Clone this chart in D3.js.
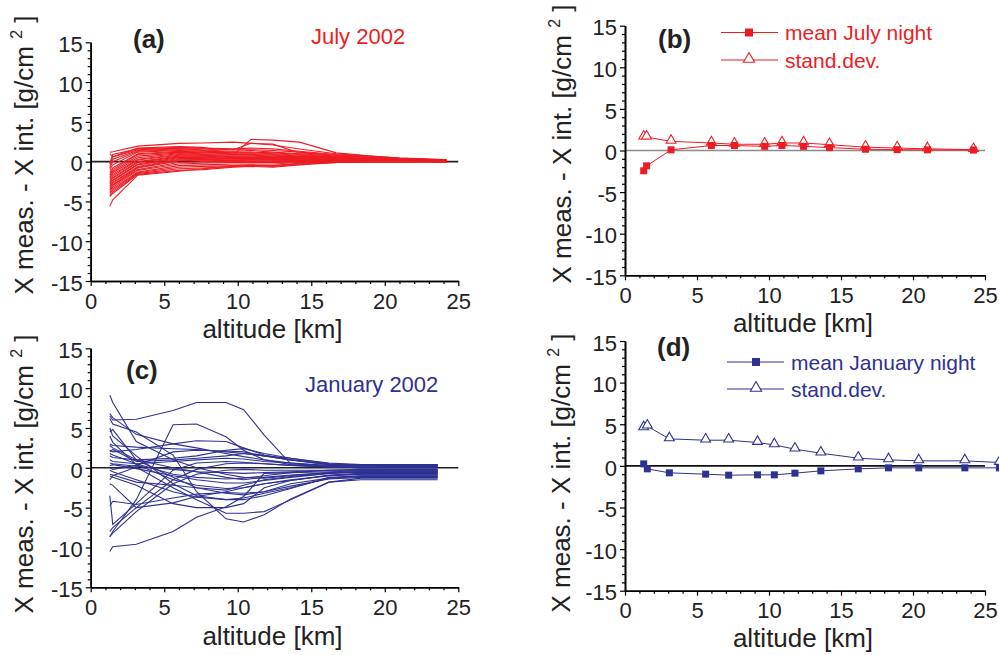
<!DOCTYPE html>
<html><head><meta charset="utf-8">
<script src="https://cdn.jsdelivr.net/npm/d3@7"></script>
<style>
html,body{margin:0;padding:0;background:#fff;}
svg{display:block;font-family:"Liberation Sans",Arial,sans-serif;}
</style></head>
<body>
<svg id="c" width="999" height="655"></svg>
<script>
// ---------------- data ----------------
const xTicks = [0, 5, 10, 15, 20, 25];
const yTicks = [-15, -10, -5, 0, 5, 10, 15];
const xTickLabels = ["0", "5", "10", "15", "20", "25"];
const yTickLabels = ["-15", "-10", "-5", "0", "5", "10", "15"];

const julyAlt = [1.3, 1.5, 3.2, 6.0, 7.6, 9.7, 10.9, 12.4, 14.2, 16.7, 18.9, 21.0, 24.2];
const julyProfiles = [
  [1.2, 1.25, 1.95, 2.3, 2.35, 2.45, 2.3, 2.1, 1.6, 1.0, 0.7, 0.45, 0.2],
  [1.0, 0.6, 1.7, 1.9, 1.8, 0.85, 2.8, 2.7, 2.45, 1.1, 0.75, 0.45, 0.25],
  [-0.2, 0.9, 1.6, 1.8, 1.7, 1.6, 1.7, 1.6, 1.3, 0.9, 0.6, 0.4, 0.2],
  [-0.5, 0.3, 1.4, 1.6, 1.5, 1.5, 1.5, 1.4, 1.2, 0.8, 0.55, 0.35, 0.15],
  [-0.8, 0.0, 1.3, 1.5, 1.4, 1.3, 1.4, 1.2, 1.0, 0.7, 0.5, 0.3, 0.15],
  [-1.0, -0.4, 1.2, 1.4, 1.3, 1.2, 1.2, 1.1, 0.9, 0.6, 0.4, 0.3, 0.1],
  [-1.3, -0.8, 1.0, 1.3, 1.2, 1.1, 1.1, 1.0, 0.8, 0.55, 0.4, 0.25, 0.1],
  [-1.5, -1.0, 0.9, 1.2, 1.1, 1.0, 1.0, 0.9, 0.7, 0.5, 0.35, 0.2, 0.1],
  [-1.7, -1.2, 0.7, 1.1, 1.0, 0.9, 0.9, 0.8, 0.65, 0.45, 0.3, 0.2, 0.1],
  [-1.9, -1.4, 0.5, 1.0, 0.9, 0.8, 0.8, 0.7, 0.6, 0.4, 0.3, 0.2, 0.05],
  [-2.0, -1.6, 0.3, 0.9, 0.8, 0.7, 0.7, 0.6, 0.5, 0.35, 0.25, 0.15, 0.05],
  [-2.2, -1.8, 0.2, 0.8, 0.8, 0.6, 0.6, 0.55, 0.45, 0.3, 0.2, 0.15, 0.05],
  [-2.4, -2.0, 0.0, 0.7, 0.7, 0.5, 0.5, 0.5, 0.4, 0.25, 0.2, 0.1, 0.0],
  [-2.5, -2.1, -0.1, 0.6, 0.6, 0.4, 0.5, 0.4, 0.35, 0.2, 0.15, 0.1, 0.05],
  [-2.7, -2.3, -0.3, 0.5, 0.5, 0.35, 0.4, 0.35, 0.3, 0.2, 0.15, 0.1, 0.0],
  [-2.8, -2.4, -0.4, 0.4, 0.4, 0.3, 0.35, 0.3, 0.25, 0.15, 0.1, 0.05, 0.0],
  [-3.0, -2.6, -0.6, 0.3, 0.3, 0.2, 0.3, 0.25, 0.2, 0.1, 0.1, 0.05, 0.0],
  [-3.1, -2.7, -0.7, 0.2, 0.25, 0.15, 0.2, 0.2, 0.15, 0.1, 0.05, 0.05, 0.0],
  [-3.3, -2.9, -0.8, 0.1, 0.2, 0.1, 0.1, 0.1, 0.1, 0.05, 0.05, 0.0, 0.0],
  [-3.5, -3.0, -1.0, -0.1, 0.0, 0.0, 0.0, 0.0, 0.05, 0.0, 0.0, 0.0, 0.0],
  [-3.6, -3.2, -1.1, -0.3, -0.2, -0.1, -0.1, -0.1, 0.0, 0.0, 0.0, 0.0, 0.0],
  [-3.8, -3.4, -1.3, -0.5, -0.4, -0.3, -0.3, -0.3, -0.1, 0.0, 0.0, 0.0, 0.05],
  [-4.0, -3.6, -1.4, -0.7, -0.6, -0.5, -0.4, -0.5, -0.2, -0.05, 0.0, 0.0, 0.05],
  [-4.2, -3.8, -1.5, -0.9, -0.8, -0.6, -0.5, -0.6, -0.3, -0.1, 0.0, 0.0, 0.05],
  [-4.4, -4.0, -1.6, -1.1, -1.0, -0.7, -0.6, -0.7, -0.4, -0.1, 0.0, 0.0, 0.0],
  [-5.6, -4.8, -1.7, -1.2, -0.9, -0.6, -0.5, -0.5, -0.3, -0.1, 0.0, 0.0, 0.0],
  [-0.3, 0.6, 1.5, 1.7, 1.7, 1.5, 2.3, 2.2, 1.1, 0.8, 0.6, 0.4, 0.2]
];
const julyMean = [-2.44, -1.84, 0.08, 0.6, 0.6, 0.5, 0.6, 0.5, 0.35, 0.15, 0.1, 0.08, 0.05];
const julySD   = [1.6, 1.6, 1.1, 0.9, 0.75, 0.75, 0.9, 0.9, 0.7, 0.4, 0.3, 0.2, 0.1];

const janAlt = [1.3, 1.5, 3.1, 5.6, 7.2, 9.2, 10.4, 11.8, 13.6, 16.2, 18.4, 20.4, 23.6];
const janProfiles = [
  [9.1, 8.2, 3.3, 1.0, 0.0, -0.8, -1.2, -1.3, -1.0, -0.6, -0.5, -0.5, -0.5],
  [6.5, 6.0, 6.1, 7.2, 8.2, 8.2, 7.3, 4.1, 0.5, 0.2, 0.1, 0.1, 0.1],
  [-8.7, -8.0, -4.0, 5.4, 5.5, 3.9, 2.2, 1.0, 0.4, 0.1, 0.0, 0.0, 0.0],
  [-10.5, -9.9, -9.6, -8.0, -6.2, -4.9, -3.6, -0.7, -0.6, -0.5, -0.4, -0.4, -0.4],
  [-3.5, -7.1, -4.5, -0.3, 0.6, 0.8, 0.7, 0.5, 0.3, 0.1, 0.0, 0.0, 0.0],
  [6.2, 5.5, 4.5, 1.6, -3.0, -6.4, -6.8, -5.9, -3.9, -1.8, -1.5, -1.5, -1.5],
  [5.0, 4.0, 1.5, -2.0, -3.5, -4.0, -3.8, -3.2, -2.5, -1.3, -1.0, -1.0, -1.0],
  [4.0, 3.2, 0.4, -1.5, -2.2, -2.6, -2.5, -2.0, -1.6, -0.9, -0.7, -0.7, -0.7],
  [3.0, 2.8, 2.6, 2.4, 2.3, 2.0, 1.8, 1.5, 1.0, 0.4, 0.3, 0.3, 0.3],
  [2.2, 2.0, 2.3, 3.0, 3.4, 3.3, 2.5, 1.6, 1.0, 0.4, 0.3, 0.2, 0.2],
  [1.5, 1.3, 1.0, 1.2, 1.5, 2.2, 2.4, 1.8, 1.2, 0.5, 0.3, 0.3, 0.3],
  [1.0, 0.8, 0.5, 0.8, 1.0, 1.2, 1.1, 0.8, 0.6, 0.3, 0.2, 0.2, 0.2],
  [0.6, 0.5, 0.2, -0.2, -0.5, -0.6, -0.7, -0.6, -0.5, -0.3, -0.2, -0.2, -0.2],
  [0.3, 0.4, -0.1, -1.0, -1.5, -1.9, -1.9, -1.6, -1.2, -0.7, -0.5, -0.5, -0.5],
  [-0.3, -0.5, -1.5, -3.0, -3.7, -4.0, -4.0, -3.5, -2.6, -1.2, -1.0, -1.0, -1.0],
  [-1.0, -1.2, -2.2, -4.5, -5.0, -5.0, -4.5, -2.5, -1.6, -1.0, -0.8, -0.8, -0.8],
  [-1.5, -1.0, 0.1, -2.5, -4.0, -5.7, -5.7, -5.5, -4.0, -1.8, -1.3, -1.3, -1.3],
  [-2.0, -2.2, -5.0, -4.4, -3.6, -3.0, -2.5, -2.0, -1.5, -1.0, -0.8, -0.8, -0.8],
  [-8.0, -7.5, -5.0, -1.5, -0.2, 0.5, 0.6, 0.5, 0.3, 0.1, 0.0, 0.0, 0.0],
  [-8.6, -8.2, -5.5, -2.0, -0.8, -0.3, -0.2, -0.3, -0.3, -0.3, -0.3, -0.3, -0.3],
  [4.5, 4.8, 1.0, -1.2, -2.5, -3.2, -3.4, -3.0, -2.0, -1.3, -1.1, -1.1, -1.1],
  [2.8, 2.5, 1.0, 0.0, -0.5, -1.2, -1.5, -1.2, -0.9, -0.6, -0.6, -0.6, -0.6],
  [1.8, 1.6, 0.5, -0.8, -1.2, -1.4, -1.3, -1.0, -0.6, -0.3, -0.3, -0.3, -0.3],
  [0.0, -0.2, 0.3, 2.0, 2.2, 2.1, 2.0, 1.5, 1.0, 0.5, 0.3, 0.3, 0.3],
  [-0.8, -0.9, -1.8, -2.2, -2.5, -2.8, -2.2, -1.5, -1.1, -0.7, -0.5, -0.5, -0.5],
  [6.8, 6.3, 4.2, 3.0, 2.5, 1.8, 1.4, 1.0, 0.6, 0.2, 0.1, 0.1, 0.1],
  [-4.8, -4.2, -4.6, -3.8, -3.3, -3.1, -3.2, -3.0, -2.3, -1.4, -1.2, -1.2, -1.2],
  [2.0, 2.3, 0.8, 1.0, 1.2, 1.5, 1.8, 1.5, 1.2, 0.6, 0.4, 0.4, 0.4]
];
const janMeanAlt = [1.3, 1.55, 3.08, 5.6, 7.2, 9.2, 10.37, 11.8, 13.6, 16.2, 18.3, 20.4, 23.6, 26.0];
const janMean = [0.24, -0.36, -0.84, -1.0, -1.12, -1.08, -1.08, -0.88, -0.6, -0.36, -0.24, -0.24, -0.24, -0.24];
const janSD   = [4.56, 4.76, 3.24, 3.08, 3.08, 2.8, 2.52, 2.0, 1.52, 0.92, 0.72, 0.6, 0.6, 0.4];

const RED = "#ed1c24";
const BLUE = "#2e3192";

// ---------------- layout ----------------
const panels = [
  {key:"a", x0:90.7, x1:458.3, yT:42.3, yB:281, ylabX:33, ylabY:155, xlabY:338, zero:"#222",
   tag:"(a)", tagX:133, tagY:48},
  {key:"b", x0:625, x1:985, yT:25.7, yB:275.3, ylabX:571, ylabY:144, xlabY:332, zero:"#8c8c8c",
   tag:"(b)", tagX:658, tagY:48},
  {key:"c", x0:90.7, x1:458.3, yT:348.3, yB:587.3, ylabX:33, ylabY:474, xlabY:645, zero:"#222",
   tag:"(c)", tagX:126, tagY:379},
  {key:"d", x0:625, x1:985, yT:341, yB:590.7, ylabX:570, ylabY:473, xlabY:647, zero:"#111",
   tag:"(d)", tagX:657, tagY:356}
];

const svg = d3.select("#c");
const minorX = d3.range(0, 26, 1).filter(v => v % 5 !== 0);
const minorY = d3.range(-15, 16, 1).filter(v => v % 5 !== 0);

const P = {};
panels.forEach(p => {
  const x = d3.scaleLinear().domain([0, 25]).range([p.x0, p.x1]);
  const y = d3.scaleLinear().domain([-15, 15]).range([p.yB, p.yT]);
  P[p.key] = {x, y, p};
  const g = svg.append("g");

  // zero line
  g.append("line").attr("x1", x(0)).attr("x2", x(25)).attr("y1", y(0)).attr("y2", y(0))
    .attr("stroke", p.zero).attr("stroke-width", 1.6);

  // axes
  const xa = g.append("g").attr("transform", `translate(0,${p.yB})`)
    .call(d3.axisBottom(x).tickValues(xTicks).tickSize(5).tickSizeOuter(0)
      .tickFormat((d, i) => xTickLabels[i]));
  const xm = g.append("g").attr("transform", `translate(0,${p.yB})`)
    .call(d3.axisBottom(x).tickValues(minorX).tickSize(3).tickSizeOuter(0).tickFormat(""));
  const ya = g.append("g").attr("transform", `translate(${p.x0},0)`)
    .call(d3.axisLeft(y).tickValues(yTicks).tickSize(5).tickSizeOuter(0)
      .tickFormat((d, i) => yTickLabels[i]));
  const ym = g.append("g").attr("transform", `translate(${p.x0},0)`)
    .call(d3.axisLeft(y).tickValues(minorY).tickSize(3).tickSizeOuter(0).tickFormat(""));
  [xa, xm, ya, ym].forEach(a => {
    a.select(".domain").attr("stroke", "#000").attr("stroke-width", 1.6);
    a.selectAll(".tick line").attr("stroke", "#000").attr("stroke-width", 1.2);
  });
  xa.selectAll(".tick text").attr("font-size", 22).attr("fill", "#222")
    .attr("font-family", "Liberation Sans, Arial, sans-serif").attr("y", 12).attr("dy", "0.71em");
  ya.selectAll(".tick text").attr("font-size", 22).attr("fill", "#222")
    .attr("font-family", "Liberation Sans, Arial, sans-serif").attr("x", -8).attr("dy", "0.42em");

  // x label
  g.append("text").attr("x", (p.x0 + p.x1) / 2 - 2).attr("y", p.xlabY)
    .attr("text-anchor", "middle").attr("font-size", 26).attr("fill", "#222")
    .text("altitude [km]");

  // y label
  const yl = g.append("text").attr("transform", `translate(${p.ylabX},${p.ylabY}) rotate(-90)`)
    .attr("text-anchor", "middle").attr("font-size", 26).attr("fill", "#222");
  yl.append("tspan").text("X meas. - X int. [g/cm ");
  yl.append("tspan").attr("font-size", 16).attr("dy", -11).text("2");
  yl.append("tspan").attr("dy", 11).text(" ]");

  // tag
  g.append("text").attr("x", p.tagX).attr("y", p.tagY).attr("font-size", 26)
    .attr("font-weight", "bold").attr("fill", "#222").text(p.tag);
});

// ---------- panels a, c: individual profiles ----------
function drawProfiles(k, alts, profiles, color) {
  const {x, y} = P[k];
  const line = d3.line().x((d, i) => x(alts[i])).y(d => y(d));
  svg.append("g").selectAll("path").data(profiles).join("path")
    .attr("d", line).attr("fill", "none").attr("stroke", color).attr("stroke-width", 1.1);
}
drawProfiles("a", julyAlt, julyProfiles, RED);
drawProfiles("c", janAlt, janProfiles, BLUE);

svg.append("text").attr("x", 311).attr("y", 44).attr("font-size", 22).attr("fill", RED).text("July 2002");
svg.append("text").attr("x", 305).attr("y", 392).attr("font-size", 22).attr("fill", BLUE).text("January 2002");

// ---------- mean / sd panels ----------
function drawStats(k, alts, mean, sd, color, legendName, leg) {
  const {x, y} = P[k];
  const g = svg.append("g");
  const line = d3.line().x((d, i) => x(alts[i])).y(d => y(d));
  g.append("path").attr("d", line(sd)).attr("fill", "none").attr("stroke", color).attr("stroke-width", 1);
  g.append("path").attr("d", line(mean)).attr("fill", "none").attr("stroke", color).attr("stroke-width", 1);
  const tri = d3.symbol().type(d3.symbolTriangle).size(42);
  g.selectAll("path.tri").data(sd).join("path").attr("class", "tri")
    .attr("d", tri).attr("transform", (d, i) => `translate(${x(alts[i])},${y(d) - 1})`)
    .attr("fill", "#fff").attr("stroke", color).attr("stroke-width", 1.1);
  g.selectAll("rect.sq").data(mean).join("rect").attr("class", "sq")
    .attr("x", (d, i) => x(alts[i]) - 3.5).attr("y", d => y(d) - 3.5)
    .attr("width", 7).attr("height", 7).attr("fill", color);

  // legend
  const rows = [{name: legendName, sq: true, y: leg.y1}, {name: "stand.dev.", sq: false, y: leg.y2}];
  rows.forEach(r => {
    g.append("line").attr("x1", leg.lx1).attr("x2", leg.lx2).attr("y1", r.y).attr("y2", r.y)
      .attr("stroke", color).attr("stroke-width", 1.1);
    if (r.sq) {
      g.append("rect").attr("x", leg.mx - 4).attr("y", r.y - 4).attr("width", 8).attr("height", 8).attr("fill", color);
    } else {
      g.append("path").attr("d", d3.symbol().type(d3.symbolTriangle).size(55)())
        .attr("transform", `translate(${leg.mx},${r.y - 1})`)
        .attr("fill", "#fff").attr("stroke", color).attr("stroke-width", 1.1);
    }
    g.append("text").attr("x", leg.tx).attr("y", r.y + 7.5).attr("font-size", 21)
      .attr("fill", color).text(r.name);
  });
}
drawStats("b", julyAlt, julyMean, julySD, RED, "mean July night",
  {lx1: 721, lx2: 778, mx: 749, tx: 785, y1: 32.5, y2: 60});
drawStats("d", janMeanAlt, janMean, janSD, BLUE, "mean January night",
  {lx1: 727, lx2: 784, mx: 756, tx: 791, y1: 362, y2: 389});
</script>
</body></html>
